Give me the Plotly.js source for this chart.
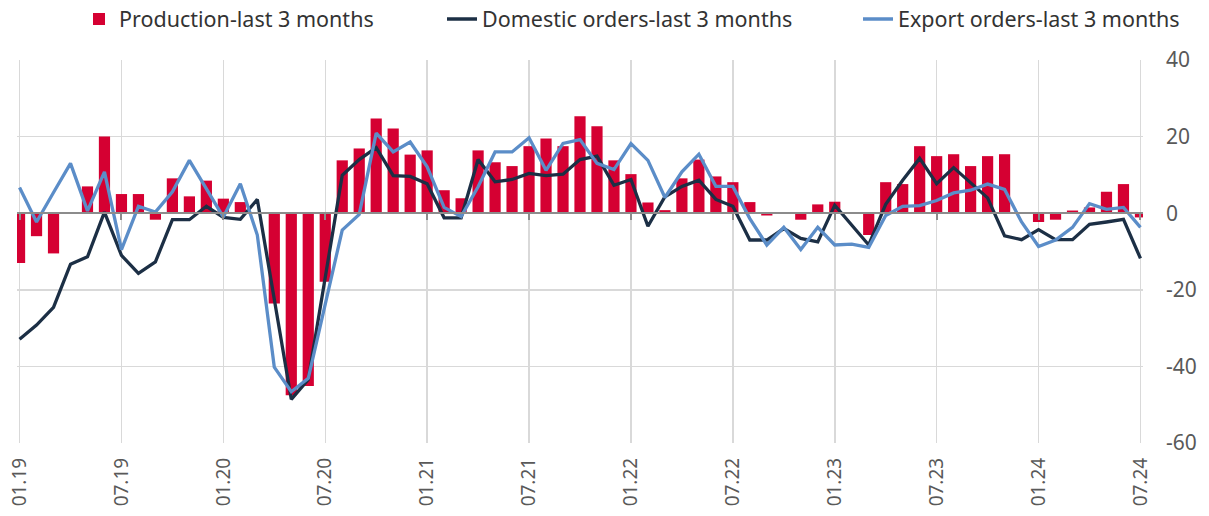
<!DOCTYPE html>
<html>
<head>
<meta charset="utf-8">
<script src="https://cdn.plot.ly/plotly-3.0.1.min.js"></script>
<style>html,body{margin:0;padding:0;background:#fff;}#chart{width:1209px;height:516px;}</style>
</head>
<body>
<div id="chart"></div>
<script>
const months = [];
for (let y = 19; y <= 24; y++) {
  for (let m = 1; m <= 12; m++) {
    if (y === 24 && m > 7) break;
    months.push((m < 10 ? '0' + m : '' + m) + '.' + y);
  }
}
const tickLabels = ['01.19','07.19','01.20','07.20','01.21','07.21','01.22','07.22','01.23','07.23','01.24','07.24'];
const yTickVals = [-60,-40,-20,0,20,40];
const yTickText = ['-60','-40','-20','0','20','40'];

const production = [-13,-6,-10.5,0,7,20,5,5,-1.7,9.1,4.4,8.5,
  3.8,2.9,0,-23.6,-47.5,-45.1,-17.9,13.8,16.9,24.7,22.1,15.3,
  16.4,6.0,3.9,16.4,13.3,12.3,17.5,19.5,17.5,25.3,22.7,13.8,
  10.2,2.8,0.8,9.1,14.0,9.6,8.1,2.9,-0.6,0,-1.7,2.3,
  3.0,0,-5.7,8.1,7.6,17.5,14.9,15.4,12.3,14.9,15.4,0,
  -2.3,-1.7,0.7,1.5,5.6,7.6,-1.1];
const domestic = [-32.9,-29.2,-24.6,-13.3,-11.4,0.3,-11,-15.7,-12.7,-1.7,-1.7,1.8,
  -1.1,-1.6,3.6,-22.5,-48.6,-43.4,-16.7,9.9,14.0,17.1,9.8,9.6,
  7.7,-1.2,-1.2,14.0,8.2,8.8,10.4,9.8,10.2,14.0,14.9,7.3,
  8.8,-3.4,4.3,7.0,8.6,3.6,1.8,-7.0,-7.0,-4.0,-6.6,-7.5,
  2.1,-3.1,-8.3,2.3,8.6,14.3,7.7,11.9,8.0,4.0,-5.9,-6.9,
  -4.3,-6.9,-6.9,-2.9,-2.3,-1.6,-11.8];
const exportOrders = [6.7,-2.3,5.4,13.0,0.6,10.8,-9.5,1.8,0.3,5.6,13.8,6.4,
  -1.0,7.7,-5.7,-40.2,-46.6,-43.1,-23.7,-4.4,-0.3,20.9,16.0,18.6,
  12.1,1.5,-0.9,6.9,16.0,16.0,19.7,11.2,18.2,19.2,13.0,11.4,
  18.2,13.8,4.1,10.8,15.4,7.0,7.0,-1.4,-8.3,-3.7,-9.5,-3.7,
  -8.3,-8.1,-8.9,-0.6,1.8,2.0,3.3,5.3,6.0,7.6,6.2,-2.3,
  -8.7,-7.0,-3.7,2.5,1.0,1.5,-3.7];

const FONT = 'Noto Sans, Open Sans, sans-serif';
const traces = [
  {type:'bar', x: months, y: production, name:'Production-last 3 months', legend:'legend',
   marker:{color:'#D50032'}, width:0.66},
  {type:'scatter', mode:'lines', x: months, y: domestic, name:'Domestic orders-last 3 months', legend:'legend2',
   line:{color:'#1C2F45', width:3.3}},
  {type:'scatter', mode:'lines', x: months, y: exportOrders, name:'Export orders-last 3 months', legend:'legend3',
   line:{color:'#5B8DC8', width:3.3}},
  {type:'scatter', mode:'lines', x: months, y: domestic, xaxis:'x2', showlegend:false,
   hoverinfo:'skip', line:{width:0, color:'rgba(0,0,0,0)'}}
];

const legFont = {size:21.5, color:'#333', family:FONT};
const legY = 1.107;
function leg(xpx) {
  return {orientation:'h', x:(xpx - 17) / 1126, xanchor:'left', y:legY, yanchor:'middle',
    font:legFont, bgcolor:'rgba(0,0,0,0)', borderwidth:0};
}

const layout = {
  width:1209, height:516,
  margin:{l:17, r:66, t:60, b:73, autoexpand:false},
  paper_bgcolor:'#fff', plot_bgcolor:'#fff',
  font:{family:FONT, color:'#404040'},
  showlegend:true,
  legend: leg(79),
  legend2: leg(442),
  legend3: leg(858),
  xaxis:{type:'category', range:[-0.15, 66.15], categoryorder:'array', categoryarray: months,
    tickmode:'array', tickvals: tickLabels, ticktext: tickLabels,
    tickangle:-90, tickfont:{size:19, color:'#595959', family:FONT},
    ticklabelstandoff:10,
    showgrid:true, gridcolor:'#D9D9D9', gridwidth:1.5,
    showline:false, zeroline:false, ticks:''},
  xaxis2:{type:'category', overlaying:'x', anchor:'free', position:0.6,
    range:[-0.15, 66.15], categoryorder:'array', categoryarray: months,
    tickmode:'array', tickvals: tickLabels, showticklabels:false,
    ticks:'outside', ticklen:6, tickwidth:2, tickcolor:'#8C8C8C',
    showline:true, linecolor:'#8C8C8C', linewidth:2, showgrid:false, zeroline:false},
  yaxis:{side:'right', range:[-60, 40], tickmode:'array', tickvals: yTickVals, ticktext: yTickText,
    tickfont:{size:21, color:'#595959', family:FONT},
    showgrid:true, gridcolor:'#D9D9D9', gridwidth:1.5,
    zeroline:false, showline:false, ticks:'', ticklabelstandoff:22}
};

Plotly.newPlot('chart', traces, layout, {displayModeBar:false, staticPlot:true});
</script>
</body>
</html>
